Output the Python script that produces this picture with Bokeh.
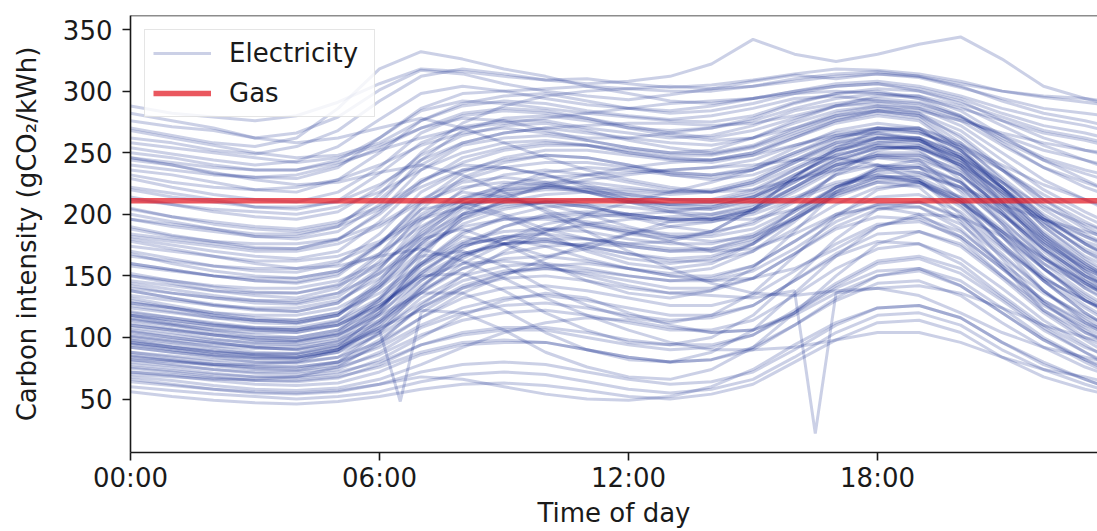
from bokeh.plotting import figure
from bokeh.models import Range1d, FixedTicker, Legend, LegendItem, Span
from bokeh.embed import file_html
from bokeh.resources import INLINE

# ---------------- data ----------------
HOURS = [0, 1, 2, 3, 4, 5, 6, 7, 8, 9, 10, 11, 12, 13, 14, 15, 16, 17, 18, 19, 20, 21, 22, 23, 23.5]
TICK_HOURS = [0, 6, 12, 18]
TICK_LABELS = ["00:00", "06:00", "12:00", "18:00"]
Y_TICKS = [50, 100, 150, 200, 250, 300, 350]
GAS_INTENSITY = 211

# daily electricity carbon-intensity profiles (gCO2/kWh), one row per day, values at HOURS
ELECTRICITY_DAYS = [
    [288, 282, 279, 276, 280, 291, 306, 318, 316, 312, 309, 310, 306, 303, 305, 309, 314, 318, 317, 314, 308, 300, 295, 291, 289],
    [276, 271, 268, 262, 266, 279, 301, 317, 314, 306, 300, 296, 293, 297, 302, 308, 313, 310, 314, 311, 303, 294, 286, 282, 280],
    [262, 258, 252, 249, 255, 268, 292, 312, 318, 314, 309, 306, 308, 312, 322, 342, 330, 324, 330, 338, 344, 326, 304, 294, 290],
    [270, 264, 258, 255, 262, 286, 318, 332, 326, 318, 312, 304, 298, 292, 290, 294, 300, 304, 306, 302, 294, 282, 272, 266, 262],
    [254, 249, 244, 240, 243, 255, 277, 298, 304, 300, 294, 289, 286, 282, 284, 290, 298, 304, 306, 300, 290, 279, 268, 262, 258],
    [244, 240, 233, 230, 229, 238, 262, 284, 292, 290, 286, 282, 279, 276, 275, 280, 291, 298, 302, 300, 292, 276, 262, 252, 248],
    [236, 232, 226, 220, 218, 228, 250, 276, 288, 292, 290, 284, 280, 277, 280, 286, 294, 296, 292, 288, 278, 264, 252, 244, 240],
    [229, 222, 216, 212, 210, 218, 238, 266, 280, 284, 282, 278, 272, 266, 262, 268, 278, 288, 292, 290, 280, 262, 246, 236, 232],
    [222, 217, 212, 206, 204, 211, 233, 258, 271, 276, 276, 270, 266, 262, 264, 272, 284, 290, 294, 291, 279, 260, 244, 233, 228],
    [214, 208, 202, 198, 196, 202, 222, 248, 264, 272, 274, 268, 260, 254, 250, 256, 270, 282, 288, 286, 276, 256, 238, 226, 220],
    [282, 276, 270, 262, 258, 262, 270, 278, 270, 258, 246, 236, 228, 222, 218, 220, 228, 236, 240, 234, 222, 208, 196, 186, 182],
    [196, 190, 186, 182, 182, 190, 216, 250, 274, 288, 296, 300, 302, 304, 302, 304, 310, 314, 316, 312, 304, 292, 282, 276, 272],
    [205, 198, 192, 188, 186, 192, 212, 240, 258, 266, 270, 266, 262, 258, 256, 262, 274, 284, 288, 282, 262, 236, 208, 188, 180],
    [190, 183, 178, 173, 172, 179, 202, 236, 256, 262, 264, 260, 254, 250, 249, 255, 268, 280, 284, 280, 258, 228, 198, 176, 168],
    [180, 175, 170, 166, 164, 170, 194, 226, 246, 254, 258, 256, 250, 245, 244, 250, 264, 276, 282, 278, 254, 222, 190, 166, 158],
    [170, 164, 158, 154, 153, 160, 184, 218, 236, 238, 232, 222, 212, 206, 204, 210, 226, 244, 254, 254, 240, 218, 196, 182, 176],
    [160, 155, 150, 146, 144, 150, 175, 210, 234, 246, 252, 252, 248, 244, 242, 248, 262, 274, 280, 276, 252, 220, 184, 158, 148],
    [152, 146, 141, 137, 136, 143, 168, 204, 230, 242, 248, 246, 240, 234, 232, 238, 254, 268, 274, 270, 246, 210, 174, 148, 138],
    [144, 139, 134, 130, 128, 136, 162, 200, 218, 214, 204, 192, 184, 180, 186, 204, 230, 252, 262, 260, 246, 222, 196, 176, 168],
    [138, 132, 126, 122, 121, 128, 155, 194, 220, 232, 236, 232, 226, 220, 218, 226, 242, 258, 266, 262, 238, 202, 166, 140, 130],
    [132, 126, 120, 116, 114, 120, 146, 186, 208, 212, 208, 200, 190, 182, 178, 182, 196, 214, 226, 226, 210, 186, 160, 142, 136],
    [126, 121, 116, 112, 111, 118, 144, 182, 208, 220, 224, 220, 214, 208, 206, 214, 232, 248, 256, 252, 228, 192, 156, 130, 120],
    [121, 116, 111, 107, 106, 113, 140, 178, 204, 214, 222, 228, 232, 236, 238, 240, 244, 246, 240, 228, 210, 186, 164, 146, 138],
    [116, 111, 106, 102, 100, 106, 132, 170, 196, 206, 210, 206, 200, 196, 196, 204, 222, 240, 248, 244, 218, 182, 146, 120, 110],
    [112, 107, 102, 98, 97, 104, 130, 168, 196, 212, 224, 232, 238, 242, 244, 248, 256, 264, 266, 260, 242, 214, 184, 160, 150],
    [108, 104, 99, 95, 94, 100, 124, 160, 186, 196, 198, 194, 188, 184, 184, 194, 212, 232, 240, 238, 212, 174, 138, 112, 102],
    [105, 100, 96, 92, 90, 97, 122, 158, 182, 176, 166, 172, 184, 194, 198, 204, 214, 226, 232, 226, 206, 176, 148, 130, 122],
    [101, 97, 92, 88, 87, 94, 118, 152, 174, 182, 184, 180, 174, 170, 172, 182, 202, 222, 232, 228, 200, 164, 128, 104, 96],
    [98, 94, 90, 86, 84, 90, 114, 146, 168, 176, 178, 174, 168, 164, 166, 176, 196, 216, 226, 222, 194, 158, 122, 100, 92],
    [95, 90, 86, 83, 82, 88, 110, 140, 166, 180, 188, 190, 186, 178, 170, 172, 184, 200, 206, 200, 182, 156, 130, 112, 106],
    [92, 88, 84, 80, 79, 84, 104, 132, 150, 158, 160, 156, 150, 146, 148, 158, 178, 198, 208, 206, 188, 158, 130, 110, 104],
    [88, 84, 80, 77, 76, 80, 98, 124, 140, 148, 150, 146, 140, 136, 138, 148, 168, 188, 198, 196, 180, 150, 122, 104, 98],
    [85, 81, 77, 74, 73, 78, 94, 116, 136, 150, 164, 176, 184, 190, 194, 200, 212, 224, 230, 226, 208, 176, 146, 120, 110],
    [82, 78, 74, 71, 70, 74, 88, 108, 120, 126, 128, 124, 118, 114, 116, 126, 146, 166, 178, 176, 160, 134, 110, 92, 86],
    [78, 75, 71, 68, 67, 70, 82, 100, 118, 130, 136, 132, 120, 110, 104, 106, 120, 142, 160, 164, 152, 130, 106, 88, 80],
    [75, 72, 68, 65, 64, 67, 78, 94, 102, 106, 106, 100, 94, 90, 92, 102, 120, 140, 154, 156, 142, 120, 98, 82, 76],
    [72, 69, 65, 62, 61, 63, 72, 86, 94, 96, 96, 90, 84, 80, 82, 92, 110, 130, 144, 146, 134, 112, 92, 76, 70],
    [68, 65, 61, 58, 57, 59, 66, 78, 92, 104, 112, 116, 114, 108, 104, 106, 118, 136, 150, 154, 142, 120, 98, 80, 72],
    [64, 61, 58, 55, 54, 56, 62, 72, 78, 80, 78, 72, 66, 62, 64, 72, 90, 110, 124, 126, 116, 96, 80, 66, 60],
    [60, 57, 54, 52, 50, 52, 56, 64, 70, 72, 70, 64, 58, 55, 58, 66, 84, 104, 118, 120, 110, 90, 74, 62, 57],
    [56, 52, 49, 47, 46, 48, 52, 58, 62, 63, 61, 57, 52, 50, 54, 62, 80, 98, 112, 114, 104, 84, 68, 58, 54],
    [150, 144, 138, 134, 132, 140, 166, 196, 206, 198, 184, 170, 160, 156, 160, 176, 204, 234, 252, 256, 244, 220, 194, 170, 162],
    [138, 132, 127, 123, 121, 128, 152, 180, 188, 176, 160, 146, 136, 132, 138, 156, 186, 218, 238, 244, 232, 206, 180, 158, 150],
    [128, 124, 118, 114, 112, 118, 140, 166, 170, 158, 140, 126, 116, 112, 118, 136, 166, 198, 220, 226, 214, 188, 164, 144, 136],
    [118, 114, 110, 106, 104, 110, 128, 150, 152, 138, 120, 106, 96, 94, 100, 118, 148, 180, 204, 210, 198, 172, 148, 130, 122],
    [110, 106, 102, 98, 97, 102, 118, 136, 136, 122, 104, 90, 82, 80, 88, 106, 136, 166, 190, 198, 186, 160, 136, 118, 110],
    [104, 100, 96, 92, 90, 94, 108, 122, 120, 106, 88, 76, 68, 66, 74, 92, 120, 150, 176, 186, 176, 150, 126, 108, 100],
    [160, 155, 150, 146, 145, 152, 176, 204, 210, 200, 188, 180, 176, 178, 186, 204, 230, 254, 268, 270, 258, 236, 212, 190, 182],
    [70, 68, 66, 66, 68, 76, 96, 126, 150, 170, 186, 200, 210, 218, 226, 236, 250, 262, 268, 266, 256, 240, 224, 212, 206],
    [246, 240, 234, 228, 224, 226, 234, 240, 232, 218, 202, 186, 170, 156, 144, 136, 134, 138, 140, 134, 120, 104, 92, 84, 80],
    [178, 172, 166, 160, 156, 158, 166, 172, 162, 148, 132, 118, 106, 96, 90, 90, 92, 98, 104, 104, 96, 84, 74, 68, 64],
    [82, 80, 78, 78, 80, 90, 112, 142, 164, 180, 192, 198, 200, 202, 206, 214, 228, 240, 246, 242, 226, 200, 172, 150, 142],
    [98, 92, 88, 86, 86, 92, 120, 164, 200, 222, 234, 238, 236, 232, 230, 236, 250, 264, 270, 268, 252, 222, 190, 164, 154],
    [130, 124, 118, 114, 112, 118, 142, 176, 200, 210, 212, 208, 198, 190, 186, 192, 210, 232, 246, 246, 232, 206, 178, 156, 148],
    [86, 82, 78, 75, 74, 80, 104, 140, 172, 190, 200, 202, 200, 196, 196, 204, 222, 242, 254, 254, 240, 212, 180, 154, 146],
    [115, 110, 104, 100, 98, 103, 124, 154, 174, 182, 180, 172, 164, 160, 164, 176, 198, 222, 238, 240, 226, 196, 164, 140, 132],
    [200, 194, 188, 182, 180, 186, 208, 244, 268, 278, 280, 276, 270, 268, 270, 278, 290, 298, 300, 294, 280, 258, 238, 222, 216],
    [168, 160, 154, 150, 148, 154, 176, 208, 226, 230, 226, 218, 210, 204, 204, 212, 230, 250, 262, 262, 248, 222, 196, 178, 172],
    [66, 62, 58, 56, 55, 57, 62, 68, 66, 60, 54, 50, 49, 52, 60, 74, 94, 112, 124, 126, 116, 96, 78, 66, 60],
    [140, 136, 132, 128, 127, 133, 156, 188, 212, 224, 230, 232, 234, 236, 238, 244, 256, 266, 270, 266, 254, 236, 216, 198, 190],
    [184, 180, 176, 172, 172, 180, 200, 228, 240, 238, 232, 224, 216, 212, 212, 220, 236, 252, 260, 258, 246, 226, 206, 192, 186],
    [246, 242, 238, 236, 236, 244, 262, 286, 298, 300, 302, 304, 302, 300, 300, 304, 308, 312, 314, 312, 306, 300, 296, 294, 292],
    [268, 262, 256, 250, 246, 248, 258, 276, 290, 296, 298, 292, 286, 284, 288, 294, 300, 306, 308, 304, 296, 286, 278, 272, 268],
    [258, 254, 250, 246, 242, 246, 256, 270, 282, 286, 284, 278, 270, 264, 260, 262, 270, 280, 286, 284, 276, 266, 258, 252, 250],
    [250, 246, 240, 236, 236, 242, 252, 262, 270, 274, 278, 282, 286, 290, 292, 294, 298, 300, 298, 294, 286, 276, 266, 260, 256],
    [240, 236, 232, 230, 232, 240, 254, 270, 278, 276, 268, 260, 254, 250, 252, 262, 276, 288, 296, 296, 288, 272, 256, 244, 238],
    [232, 226, 222, 220, 222, 228, 240, 256, 266, 270, 266, 262, 262, 266, 270, 276, 286, 294, 298, 296, 284, 264, 244, 228, 220],
    [220, 214, 210, 206, 206, 210, 224, 244, 258, 266, 270, 272, 274, 274, 272, 274, 280, 288, 290, 286, 272, 250, 228, 212, 204],
    [212, 208, 204, 202, 200, 206, 218, 236, 250, 258, 260, 256, 250, 246, 244, 250, 262, 276, 284, 282, 268, 244, 220, 202, 194],
    [204, 198, 194, 190, 188, 194, 206, 226, 242, 252, 256, 256, 252, 248, 248, 254, 266, 278, 284, 280, 264, 238, 212, 194, 186],
    [196, 192, 188, 184, 184, 190, 204, 222, 236, 244, 248, 246, 240, 232, 228, 232, 244, 260, 270, 268, 252, 226, 200, 182, 174],
    [188, 182, 178, 176, 176, 180, 192, 212, 228, 238, 242, 242, 238, 234, 232, 236, 248, 262, 270, 270, 256, 230, 204, 184, 176],
    [182, 178, 174, 170, 170, 176, 190, 210, 222, 226, 224, 218, 212, 208, 208, 214, 228, 244, 254, 254, 242, 218, 192, 172, 164],
    [174, 170, 166, 162, 162, 166, 178, 198, 214, 222, 226, 226, 222, 218, 218, 224, 238, 254, 262, 262, 250, 226, 198, 176, 166],
    [166, 162, 158, 156, 156, 162, 176, 196, 212, 220, 222, 218, 210, 202, 196, 196, 204, 218, 230, 232, 222, 200, 176, 156, 148],
    [158, 154, 150, 148, 148, 154, 168, 190, 208, 218, 222, 222, 220, 218, 220, 228, 244, 258, 264, 262, 248, 222, 194, 170, 160],
    [150, 146, 142, 140, 140, 146, 160, 182, 200, 208, 210, 206, 200, 196, 196, 202, 218, 236, 248, 248, 236, 210, 182, 160, 150],
    [146, 142, 138, 136, 136, 142, 158, 184, 206, 216, 220, 220, 218, 216, 218, 226, 242, 256, 262, 260, 244, 216, 186, 162, 152],
    [142, 136, 132, 130, 130, 136, 152, 174, 190, 196, 196, 192, 186, 182, 182, 188, 204, 222, 236, 238, 226, 200, 172, 150, 142],
    [134, 130, 126, 124, 124, 130, 148, 176, 198, 210, 216, 218, 216, 212, 210, 216, 232, 248, 256, 254, 238, 208, 176, 150, 140],
    [128, 124, 120, 118, 118, 124, 142, 170, 192, 204, 210, 212, 210, 208, 210, 218, 236, 252, 258, 256, 240, 210, 178, 152, 142],
    [124, 120, 116, 114, 114, 120, 136, 160, 178, 186, 188, 186, 180, 176, 176, 184, 202, 222, 234, 234, 220, 194, 166, 144, 134],
    [118, 114, 110, 108, 108, 114, 132, 160, 184, 198, 206, 208, 206, 202, 200, 206, 222, 240, 250, 250, 234, 204, 172, 146, 136],
    [114, 110, 106, 104, 104, 110, 126, 150, 168, 176, 178, 174, 168, 162, 162, 170, 188, 208, 222, 224, 210, 184, 156, 134, 124],
    [110, 106, 102, 100, 100, 106, 124, 152, 176, 190, 198, 200, 198, 194, 194, 202, 220, 238, 248, 248, 232, 202, 170, 144, 134],
    [106, 102, 98, 96, 96, 102, 120, 146, 166, 176, 180, 180, 176, 172, 172, 180, 198, 218, 230, 230, 214, 186, 156, 132, 122],
    [102, 98, 95, 93, 93, 98, 114, 138, 156, 164, 166, 162, 156, 150, 150, 158, 178, 200, 214, 216, 202, 174, 146, 124, 114],
    [100, 96, 93, 91, 91, 96, 112, 136, 156, 168, 174, 176, 174, 170, 170, 178, 196, 216, 228, 228, 212, 182, 150, 126, 116],
    [96, 92, 89, 87, 87, 92, 106, 128, 146, 154, 156, 152, 146, 140, 140, 148, 168, 190, 204, 206, 192, 166, 138, 116, 106],
    [92, 88, 85, 83, 83, 88, 102, 124, 142, 152, 156, 154, 150, 146, 146, 154, 172, 194, 208, 210, 196, 168, 138, 114, 104],
    [88, 85, 82, 80, 80, 84, 96, 116, 132, 140, 142, 138, 132, 126, 126, 134, 154, 176, 192, 194, 182, 156, 128, 106, 96],
    [84, 81, 78, 76, 76, 80, 92, 110, 124, 132, 134, 130, 124, 118, 118, 126, 146, 168, 184, 186, 174, 148, 120, 98, 88],
    [80, 77, 74, 72, 72, 76, 86, 102, 114, 120, 122, 118, 112, 106, 106, 114, 134, 156, 172, 176, 164, 140, 114, 94, 84],
    [76, 73, 70, 68, 68, 72, 80, 94, 104, 108, 108, 104, 98, 94, 94, 102, 122, 144, 162, 166, 156, 132, 108, 88, 78],
    [72, 70, 67, 65, 65, 68, 76, 88, 96, 98, 96, 90, 84, 80, 82, 90, 110, 132, 150, 156, 146, 124, 100, 82, 74],
    [118, 112, 108, 106, 106, 112, 130, 158, 176, 180, 174, 164, 156, 152, 156, 170, 194, 220, 236, 238, 222, 192, 160, 136, 126],
    [94, 90, 86, 84, 84, 90, 108, 136, 160, 176, 186, 192, 196, 198, 200, 208, 226, 246, 258, 260, 246, 216, 182, 154, 142],
]

# two days with a single bad half-hourly reading
SPIKE_A_HOURS = [0, 1, 2, 3, 4, 5, 6, 7, 8, 9, 10, 11, 12, 13, 14, 15, 16, 16.5, 17, 18, 19, 20, 21, 22, 23, 23.5]
SPIKE_A_VALUES = [120, 116, 112, 108, 106, 110, 126, 148, 160, 162, 158, 150, 142, 136, 134, 132, 138, 22, 136, 140, 142, 136, 124, 110, 100, 96]
SPIKE_B_HOURS = [0, 1, 2, 3, 4, 5, 6, 6.5, 7, 8, 9, 10, 11, 12, 13, 14, 15, 16, 17, 18, 19, 20, 21, 22, 23, 23.5]
SPIKE_B_VALUES = [96, 92, 88, 85, 84, 90, 106, 48, 120, 140, 152, 158, 160, 156, 150, 146, 148, 156, 172, 190, 200, 198, 182, 156, 130, 122]

# ---------------- figure ----------------
FONT = "DejaVu Sans"
TXT = "#1a1a1a"
ELEC_COLOR = "#132a8c"

p = figure(width=1097, height=531, output_backend="svg", toolbar_location=None,
           x_range=Range1d(0, 23.3), y_range=Range1d(6.6, 361.4),
           min_border_left=130, min_border_right=0, min_border_top=15, min_border_bottom=79)
p.background_fill_color = "white"
p.border_fill_color = "white"
p.outline_line_color = None
p.xgrid.visible = False
p.ygrid.visible = False

xs = [HOURS] * len(ELECTRICITY_DAYS) + [SPIKE_A_HOURS, SPIKE_B_HOURS]
ys = ELECTRICITY_DAYS + [SPIKE_A_VALUES, SPIKE_B_VALUES]
elec = p.multi_line(xs, ys, line_color=ELEC_COLOR, line_alpha=0.22, line_width=3.0)

gas = p.line([HOURS[0], HOURS[-1]], [GAS_INTENSITY, GAS_INTENSITY],
             line_color="#e3202a", line_alpha=0.75, line_width=5.5)

p.add_layout(Span(location=361.4, dimension="width", line_color=TXT, line_width=1.6))

p.xaxis.ticker = FixedTicker(ticks=TICK_HOURS)
p.xaxis.major_label_overrides = {h: lab for h, lab in zip(TICK_HOURS, TICK_LABELS)}
p.yaxis.ticker = FixedTicker(ticks=Y_TICKS)
p.xaxis.axis_label = "Time of day"
p.yaxis.axis_label = "Carbon intensity (gCO\u2082/kWh)"

for ax in (p.xaxis[0], p.yaxis[0]):
    ax.axis_line_color = TXT
    ax.axis_line_width = 1.6
    ax.major_tick_line_color = TXT
    ax.major_tick_line_width = 1.6
    ax.major_tick_out = 8
    ax.major_tick_in = 0
    ax.minor_tick_out = 0
    ax.minor_tick_in = 0
    ax.major_label_text_font = FONT
    ax.major_label_text_font_size = "26px"
    ax.major_label_text_color = TXT
    ax.axis_label_text_font = FONT
    ax.axis_label_text_font_size = "26px"
    ax.axis_label_text_font_style = "normal"
    ax.axis_label_text_color = TXT
p.xaxis.major_label_standoff = 2
p.xaxis.axis_label_standoff = 2
p.yaxis.major_label_standoff = 10
p.yaxis.axis_label_standoff = 18

legend = Legend(items=[LegendItem(label="Electricity", renderers=[elec]),
                       LegendItem(label="Gas", renderers=[gas])],
                location=(14, 335), orientation="vertical",
                label_text_font=FONT, label_text_font_size="26px", label_text_color=TXT,
                glyph_width=58, glyph_height=30, label_height=30, label_width=137,
                label_standoff=18, spacing=10, padding=8, margin=0,
                background_fill_color="white", background_fill_alpha=0.8,
                border_line_color="#cccccc", border_line_width=1)
p.add_layout(legend)

open("out.html", "w").write(file_html(p, INLINE))
